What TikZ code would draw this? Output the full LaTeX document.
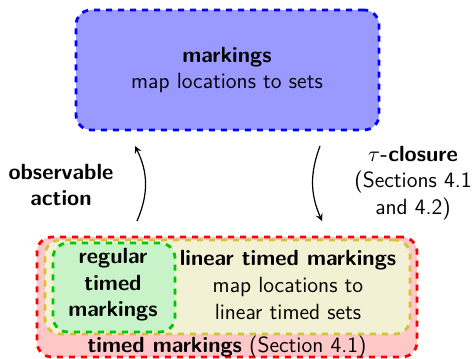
\documentclass[tikz,border=0pt]{standalone}
\usepackage{amsmath,amssymb}
\usetikzlibrary{arrows}

\definecolor{markfill}{RGB}{153,153,255}
\definecolor{timedfill}{RGB}{255,200,200}
\definecolor{linfill}{RGB}{243,241,212}
\definecolor{lindraw}{RGB}{212,192,60}
\definecolor{regfill}{RGB}{200,242,200}
\definecolor{regdraw}{RGB}{0,200,0}

\tikzset{
  setbox/.style={rectangle,rounded corners=7.5pt,dashed,line width=1.4pt,inner sep=0pt},
  lbl/.style={inner sep=0.75pt,align=center,font=\sffamily\fontsize{11}{13.3}\selectfont},
  flow/.style={-stealth,semithick}
}

\begin{document}
\begin{tikzpicture}[x=0.5pt,y=0.5pt,yscale=-1,xscale=1]
    \path[use as bounding box] (0,0) rectangle (475,358);

    %Shape: markings box
    \node [setbox,draw=blue,fill=markfill,minimum width=151.5pt,minimum height=60pt] (markings) at (227.5,70) {};
    %Shape: timed markings box
    \node [setbox,draw=red,fill=timedfill,minimum width=190pt,minimum height=60pt] (timed) at (227,297) {};
    %Shape: linear timed markings box
    \node [setbox,draw=lindraw,fill=linfill,minimum width=182.5pt,minimum height=47pt] (linear) at (227.5,287) {};
    %Shape: regular timed markings box
    \node [setbox,draw=regdraw,fill=regfill,minimum width=61pt,minimum height=44.5pt] (regular) at (114,287.5) {};

    % Text Node
    \node [lbl] (markingstxt) at (227,70) {\textbf{markings}\\map locations to sets};
    % Text Node
    \node [lbl] (obstxt) at (61,185) {\textbf{observable}\\\textbf{action}};
    % Text Node
    \node [lbl] (tautxt) at (413,183) {$\tau$\textbf{-closure}\\(Sections 4.1\\and 4.2)};
    % Text Node
    \node [lbl] (regtxt) at (113,285) {\textbf{regular}\\\textbf{timed}\\\textbf{markings}};
    % Text Node
    \node [lbl] (lintxt) at (288,285) {\textbf{linear timed markings}\\map locations to\\linear timed sets};
    % Text Node
    \node [lbl] (timedtxt) at (227,347) {\textbf{timed markings} (Section 4.1)};

    %Arrows
    \coordinate (obs-from) at (137,221);
    \coordinate (obs-to) at (135,146);
    \coordinate (tau-from) at (320,146);
    \coordinate (tau-to) at (322,221);
    \draw [flow] (obs-from) to[bend left=25] (obs-to);
    \draw [flow] (tau-from) to[bend left=22] (tau-to);

\end{tikzpicture}
\end{document}
